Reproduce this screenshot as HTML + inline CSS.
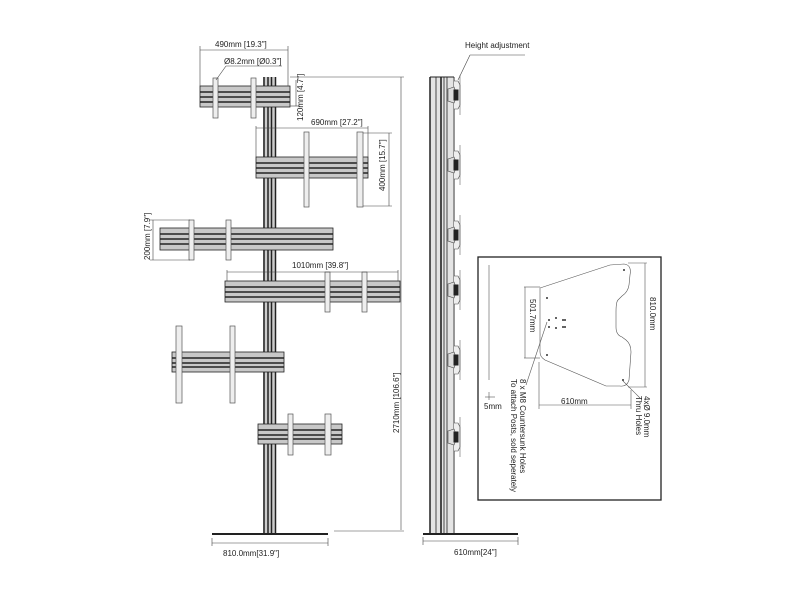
<!DOCTYPE html>
<html><head><meta charset="utf-8"><style>
html,body{margin:0;padding:0;background:#fff;width:800px;height:600px;overflow:hidden}
svg{display:block}
text{font-family:"Liberation Sans",sans-serif;font-size:8px;fill:#222}
</style></head><body>
<svg width="800" height="600" viewBox="0 0 800 600" xmlns="http://www.w3.org/2000/svg">
<defs>
<g id="sb">
<path d="M0,-14 L4,-14 L6,-10 L6,10 L4,14 L0,14" fill="#eee" stroke="#444" stroke-width="0.6"/>
<path d="M-6,-6 L0,-8 L2,-3 L2,3 L0,8 L-6,6 Z" fill="#ddd" stroke="#444" stroke-width="0.6"/>
<rect x="0" y="-5" width="4" height="10" fill="#222"/>
<line x1="6" y1="-20" x2="6" y2="20" stroke="#666" stroke-width="0.6"/>
</g>
</defs>
<g stroke="#222" fill="none">
<rect x="263" y="77" width="13" height="457" fill="#ccc" stroke="none"/>
<line x1="264" y1="77" x2="264" y2="534" stroke-width="1.5"/>
<line x1="268" y1="77" x2="268" y2="534" stroke-width="1.5"/>
<line x1="271.5" y1="77" x2="271.5" y2="534" stroke-width="1.5"/>
<line x1="275.5" y1="77" x2="275.5" y2="534" stroke-width="1.5"/>
<line x1="212" y1="534" x2="328" y2="534" stroke-width="2"/>
<g stroke-width="0.8">
<g transform="translate(200,86)"><rect width="90" height="21" fill="#c8c8c8"/><line x1="0" y1="6" x2="90" y2="6" stroke-width="1.6"/><line x1="0" y1="11" x2="90" y2="11" stroke-width="1.6"/><line x1="0" y1="16" x2="90" y2="16" stroke-width="1.6"/></g>
<g transform="translate(256,157)"><rect width="112" height="21" fill="#c8c8c8"/><line x1="0" y1="6" x2="112" y2="6" stroke-width="1.6"/><line x1="0" y1="11" x2="112" y2="11" stroke-width="1.6"/><line x1="0" y1="16" x2="112" y2="16" stroke-width="1.6"/></g>
<g transform="translate(160,228)"><rect width="173" height="22" fill="#c8c8c8"/><line x1="0" y1="6" x2="173" y2="6" stroke-width="1.6"/><line x1="0" y1="11" x2="173" y2="11" stroke-width="1.6"/><line x1="0" y1="16" x2="173" y2="16" stroke-width="1.6"/></g>
<g transform="translate(225,281)"><rect width="175" height="21" fill="#c8c8c8"/><line x1="0" y1="6" x2="175" y2="6" stroke-width="1.6"/><line x1="0" y1="11" x2="175" y2="11" stroke-width="1.6"/><line x1="0" y1="16" x2="175" y2="16" stroke-width="1.6"/></g>
<g transform="translate(172,352)"><rect width="112" height="20" fill="#c8c8c8"/><line x1="0" y1="6" x2="112" y2="6" stroke-width="1.6"/><line x1="0" y1="11" x2="112" y2="11" stroke-width="1.6"/><line x1="0" y1="15" x2="112" y2="15" stroke-width="1.6"/></g>
<g transform="translate(258,424)"><rect width="84" height="20" fill="#c8c8c8"/><line x1="0" y1="6" x2="84" y2="6" stroke-width="1.6"/><line x1="0" y1="11" x2="84" y2="11" stroke-width="1.6"/><line x1="0" y1="15" x2="84" y2="15" stroke-width="1.6"/></g>
</g>
<g fill="#eee" stroke="#555" stroke-width="0.7">
<rect x="213" y="78" width="5" height="40"/><rect x="251" y="78" width="5" height="40"/>
<rect x="304" y="132" width="5" height="75"/><rect x="357" y="132" width="6" height="75"/>
<rect x="189" y="220" width="5" height="40"/><rect x="226" y="220" width="5" height="40"/>
<rect x="325" y="272" width="5" height="40"/><rect x="362" y="272" width="5" height="40"/>
<rect x="176" y="326" width="6" height="77"/><rect x="230" y="326" width="5" height="77"/>
<rect x="288" y="414" width="5" height="41"/><rect x="325" y="414" width="6" height="41"/>
</g>
<g stroke="#444" stroke-width="0.6">
<line x1="200" y1="50" x2="288" y2="50"/><line x1="200" y1="46" x2="200" y2="86"/><line x1="288" y1="46" x2="288" y2="86"/>
<line x1="216" y1="80" x2="226" y2="66"/><line x1="226" y1="66" x2="282" y2="66"/>
<line x1="290" y1="77" x2="404" y2="77"/>
<line x1="296" y1="80" x2="296" y2="106"/><line x1="290" y1="106" x2="300" y2="106"/>
<line x1="256" y1="128" x2="368" y2="128"/><line x1="256" y1="126" x2="256" y2="157"/><line x1="368" y1="126" x2="368" y2="157"/>
<line x1="389" y1="133" x2="389" y2="206"/><line x1="363" y1="133" x2="392" y2="133"/><line x1="363" y1="206" x2="392" y2="206"/>
<line x1="153" y1="220" x2="153" y2="260"/><line x1="150" y1="220" x2="190" y2="220"/><line x1="150" y1="260" x2="190" y2="260"/>
<line x1="227" y1="272" x2="398" y2="272"/><line x1="227" y1="270" x2="227" y2="281"/><line x1="398" y1="270" x2="398" y2="281"/>
<line x1="401" y1="77" x2="401" y2="530"/><line x1="334" y1="531" x2="404" y2="531"/>
<line x1="212" y1="543" x2="328" y2="543"/><line x1="212" y1="538" x2="212" y2="546"/><line x1="328" y1="538" x2="328" y2="546"/>
</g>
<rect x="430" y="77" width="25" height="457" fill="#e4e4e4" stroke="none"/>
<line x1="430" y1="77" x2="430" y2="534" stroke-width="1.5"/>
<line x1="436" y1="77" x2="436" y2="534" stroke-width="0.8"/>
<line x1="441" y1="77" x2="441" y2="534" stroke-width="1.6"/>
<line x1="444" y1="77" x2="444" y2="534" stroke-width="0.8"/>
<line x1="447" y1="77" x2="447" y2="534" stroke-width="0.8"/>
<line x1="454" y1="77" x2="454" y2="534" stroke-width="0.8"/>
<line x1="430" y1="77" x2="454" y2="77" stroke-width="1"/>
<line x1="423" y1="534" x2="518" y2="534" stroke-width="2"/>
<g stroke="#444" stroke-width="0.6">
<line x1="423" y1="541" x2="518" y2="541"/><line x1="423" y1="537" x2="423" y2="545"/><line x1="518" y1="537" x2="518" y2="545"/>
<line x1="458" y1="80" x2="470" y2="55"/><line x1="470" y1="55" x2="525" y2="55"/>
</g>
<use href="#sb" x="454" y="95"/>
<use href="#sb" x="454" y="165"/>
<use href="#sb" x="454" y="235"/>
<use href="#sb" x="454" y="290"/>
<use href="#sb" x="454" y="360"/>
<use href="#sb" x="454" y="437"/>
<rect x="478" y="257" width="183" height="243" stroke-width="1.3" fill="#fff"/>
<g stroke="#555" stroke-width="0.6">
<path d="M540,288 L610,265 L624,264 Q632,265 630,275 L629,285 Q628,292 622,296 L618,300 Q616,302 616,312 L616,327 Q616,335 622,337 L626,340 Q631,344 631,352 L629,380 Q627,387 620,386 L606,386 L545,360 Q540,357 540,352 Z" fill="#fff"/>
<line x1="489" y1="265" x2="489" y2="380"/>
<line x1="485" y1="397" x2="495" y2="397"/><line x1="489" y1="392" x2="489" y2="400"/>
<line x1="524" y1="287" x2="540" y2="287"/><line x1="524" y1="358" x2="540" y2="358"/><line x1="525" y1="287" x2="525" y2="358"/>
<line x1="628" y1="263" x2="647" y2="263"/><line x1="628" y1="387" x2="647" y2="387"/><line x1="645" y1="263" x2="645" y2="387"/>
<line x1="539" y1="405" x2="631" y2="405"/><line x1="539" y1="362" x2="539" y2="409"/><line x1="631" y1="390" x2="631" y2="409"/>
<line x1="547" y1="322" x2="526" y2="385"/>
<line x1="623" y1="381" x2="640" y2="398"/>
</g>
<g fill="#333" stroke="none">
<circle cx="547" cy="298" r="1"/><circle cx="624" cy="270" r="1"/><circle cx="547" cy="355" r="1"/><circle cx="623" cy="380" r="1"/>
<circle cx="549" cy="320" r="1"/><circle cx="556" cy="318" r="1"/><circle cx="563" cy="320" r="1"/><circle cx="565" cy="320" r="1"/>
<circle cx="549" cy="327" r="1"/><circle cx="556" cy="328" r="1"/><circle cx="563" cy="327" r="1"/><circle cx="565" cy="327" r="1"/>
</g>
</g>
<text x="215" y="47">490mm [19.3"]</text>
<text x="224" y="64">Ø8.2mm [Ø0.3"]</text>
<text transform="translate(303,121) rotate(-90)">120mm [4.7"]</text>
<text x="311" y="125">690mm [27.2"]</text>
<text transform="translate(385,191) rotate(-90)">400mm [15.7"]</text>
<text transform="translate(150,260) rotate(-90)">200mm [7.9"]</text>
<text x="292" y="268">1010mm [39.8"]</text>
<text transform="translate(399,433) rotate(-90)">2710mm [106.6"]</text>
<text x="223" y="556">810.0mm[31.9"]</text>
<text x="454" y="555">610mm[24"]</text>
<text x="465" y="48">Height adjustment</text>
<text transform="translate(530,299) rotate(90)">501.7mm</text>
<text transform="translate(650,297) rotate(90)">810.0mm</text>
<text x="484" y="409">5mm</text>
<text x="561" y="404">610mm</text>
<text transform="translate(520,379) rotate(90)">8 x M8 Countersunk Holes</text>
<text transform="translate(511,379) rotate(90)">To attach Posts, sold seperately</text>
<text transform="translate(644,396) rotate(90)">4xØ 9.0mm</text>
<text transform="translate(636,396) rotate(90)">Thru Holes</text>
</svg>
</body></html>
